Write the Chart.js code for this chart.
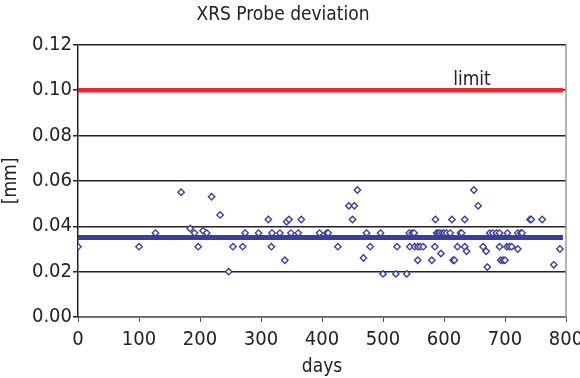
<!DOCTYPE html>
<html>
<head>
<meta charset="utf-8">
<script src="https://cdn.jsdelivr.net/npm/chart.js@4/dist/chart.umd.min.js"></script>
<style>
  html, body { margin: 0; padding: 0; background: #fff; }
  #wrap { width: 580px; height: 378px; }
</style>
</head>
<body>
<div id="wrap"><canvas id="probe-chart" width="580" height="378"></canvas></div>
<script>
const days = [
  0, 100, 127, 169, 184, 191, 197, 205, 211, 219, 233, 247, 254, 270, 274, 296,
  312, 317, 318, 331, 339, 342, 346, 349, 361, 366, 396, 408, 410, 426, 444, 450,
  453, 458, 468, 473, 479, 496, 500, 521, 523, 539, 543, 544, 548, 551, 552, 557,
  557, 561, 566, 580, 585, 586, 588, 590, 593, 595, 597, 600, 604, 610, 613, 615,
  617, 622, 627, 629, 634, 634, 637, 649, 656, 664, 669, 671, 675, 680, 686, 691,
  691, 693, 697, 700, 703, 704, 707, 711, 721, 721, 726, 728, 741, 743, 761, 780, 790
];
const deviation = [
  0.031, 0.031, 0.037, 0.055, 0.039, 0.037, 0.031, 0.038, 0.037, 0.053, 0.045, 0.020, 0.031, 0.031, 0.037, 0.037,
  0.043, 0.031, 0.037, 0.037, 0.025, 0.042, 0.043, 0.037, 0.037, 0.043, 0.037, 0.037, 0.037, 0.031, 0.049, 0.043,
  0.049, 0.056, 0.026, 0.037, 0.031, 0.037, 0.019, 0.019, 0.031, 0.019, 0.037, 0.031, 0.037, 0.037, 0.031, 0.031,
  0.025, 0.031, 0.031, 0.025, 0.031, 0.043, 0.037, 0.037, 0.037, 0.028, 0.037, 0.037, 0.037, 0.037, 0.043, 0.025,
  0.025, 0.031, 0.037, 0.037, 0.043, 0.031, 0.029, 0.056, 0.049, 0.031, 0.029, 0.022, 0.037, 0.037, 0.037, 0.037,
  0.031, 0.025, 0.025, 0.025, 0.031, 0.037, 0.031, 0.031, 0.030, 0.037, 0.037, 0.037, 0.043, 0.043, 0.043, 0.023, 0.030
];
const lineDays = [0, 795];
const limitValue = 0.10;
const meanValue = 0.035;
const limitLabel = 'limit';
const limitLabelDay = 615;
const titleText = 'XRS Probe deviation';
const xTitle = 'days';
const yTitle = '[mm]';

const fontFamily = "'Liberation Sans Narrow', 'DejaVu Sans Condensed', 'Roboto', sans-serif";
const blue = '#3a3f9e';

const scatterPoints = days.map((d, i) => ({ x: d, y: deviation[i] }));

// draws the "limit" text and the grey right frame
const extras = {
  id: 'extras',
  afterDatasetsDraw(chart) {
    const { ctx, chartArea, scales } = chart;
    ctx.save();
    ctx.strokeStyle = '#9a9a9a';
    ctx.lineWidth = 1.5;
    ctx.beginPath();
    ctx.moveTo(chartArea.right, chartArea.top);
    ctx.lineTo(chartArea.right, chartArea.bottom);
    ctx.stroke();

    ctx.fillStyle = '#222';
    ctx.font = '19px ' + fontFamily;
    ctx.textAlign = 'left';
    ctx.textBaseline = 'bottom';
    ctx.fillText(limitLabel, scales.x.getPixelForValue(limitLabelDay), scales.y.getPixelForValue(limitValue) - 1);
    ctx.restore();
  }
};

const ctx = document.getElementById('probe-chart');
new Chart(ctx, {
  type: 'scatter',
  data: {
    datasets: [
      {
        label: 'limit',
        type: 'line',
        data: lineDays.map(d => ({ x: d, y: limitValue })),
        borderColor: '#e8282b',
        borderWidth: 4.5,
        pointRadius: 0,
        order: 2
      },
      {
        label: 'mean',
        type: 'line',
        data: lineDays.map(d => ({ x: d, y: meanValue })),
        borderColor: blue,
        borderWidth: 5,
        pointRadius: 0,
        order: 3
      },
      {
        label: 'deviation',
        data: scatterPoints,
        pointStyle: 'rectRot',
        pointRadius: 3.2,
        borderWidth: 1.4,
        borderColor: blue,
        backgroundColor: '#ffffff',
        order: 1
      }
    ]
  },
  options: {
    responsive: false,
    animation: false,
    layout: { padding: { left: 0, right: 14, top: 0, bottom: 0 } },
    plugins: {
      legend: { display: false },
      tooltip: { enabled: false },
      title: {
        display: true,
        text: titleText,
        color: '#222',
        font: { family: fontFamily, size: 19, weight: 'normal' },
        padding: { top: 4, bottom: 18 }
      }
    },
    scales: {
      x: {
        type: 'linear',
        min: 0,
        max: 800,
        ticks: {
          stepSize: 100,
          maxRotation: 0,
          color: '#222',
          padding: 6,
          font: { family: fontFamily, size: 20 }
        },
        grid: { drawOnChartArea: false, drawTicks: true, tickLength: 5, color: '#555' },
        border: { color: '#666', width: 1.5 },
        title: {
          display: true,
          text: xTitle,
          color: '#222',
          padding: 0,
          font: { family: fontFamily, size: 19 }
        },
        afterFit(scale) {
          scale.height = 61;
          scale.paddingLeft = 0;
          scale.paddingRight = 0;
        }
      },
      y: {
        min: 0,
        max: 0.12,
        ticks: {
          stepSize: 0.02,
          color: '#222',
          padding: 1,
          font: { family: fontFamily, size: 20 },
          callback: v => v.toFixed(2)
        },
        grid: { color: '#222', lineWidth: 1.5, tickLength: 5 },
        border: { color: '#222', width: 1.5 },
        title: {
          display: true,
          text: yTitle,
          color: '#222',
          padding: 0,
          font: { family: fontFamily, size: 19 }
        },
        afterFit(scale) { scale.width = 78; }
      }
    }
  },
  plugins: [extras]
});
</script>
</body>
</html>
